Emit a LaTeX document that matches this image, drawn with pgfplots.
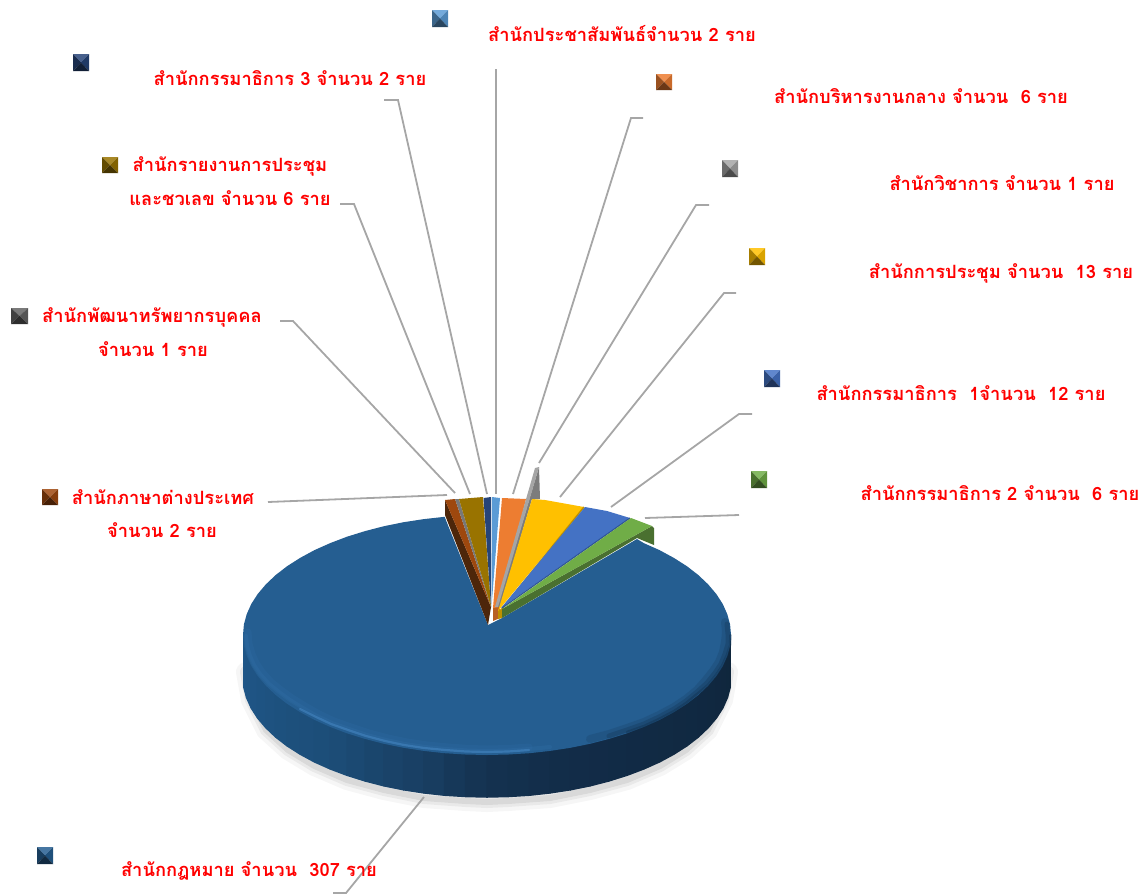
\documentclass[border=0pt]{standalone}
\usepackage{pgfplots}
\pgfplotsset{compat=1.18}
\usepackage{fontspec}
\setmainfont{Loma}[Script=Thai,BoldFont={Loma Bold}]
\definecolor{lab}{RGB}{255,0,0}
\definecolor{lead}{RGB}{166,166,166}
\definecolor{mainb}{RGB}{37,94,145}
\newcommand{\lab}[4]{\node[text=lab,font=\fontsize{#4}{#4}\selectfont\bfseries,inner sep=0pt,anchor=center] at (axis cs:#1,#2) {#3};}
\newcommand{\key}[7]{%
 \addplot[fill=#7!85!white,draw=none] coordinates {(#1,#4) (#3,#4) (#2,#5)} -- cycle;
 \addplot[fill=#7!65!black,draw=none] coordinates {(#1,#4) (#1,#6) (#2,#5)} -- cycle;
 \addplot[fill=#7!85!black,draw=none] coordinates {(#3,#4) (#3,#6) (#2,#5)} -- cycle;
 \addplot[fill=#7!45!black,draw=none] coordinates {(#1,#6) (#3,#6) (#2,#5)} -- cycle;
}
\begin{document}
\begin{tikzpicture}
\path[use as bounding box] (0,0) rectangle (1143pt,895pt);
\begin{axis}[
  at={(0,0)},anchor=south west,
  scale only axis,width=1143pt,height=895pt,
  xmin=0,xmax=1143,ymin=0,ymax=895,y dir=reverse,
  hide axis,clip=false,
  point meta min=0,point meta max=180,
  colormap={wall}{rgb255(0cm)=(32,88,138) rgb255(50cm)=(28,77,120) rgb255(75cm)=(25,63,99) rgb255(90cm)=(20,50,80) rgb255(110cm)=(18,44,72) rgb255(180cm)=(15,38,60)},
]
% soft shadow
\addplot[draw=black,opacity=.035,line width=20pt,line cap=round,no marks] coordinates {(246,672) (251,700) (266,730) (288,750) (314.5,766) (347,780) (384,790) (424,798) (465.7,801) (487,802) (508,801) (550,798) (590,790) (627,780) (660,766) (686,750) (708,730) (723,700) (728,672)};
\addplot[draw=black,opacity=.05,line width=12pt,line cap=round,no marks] coordinates {(246,672) (251,700) (266,730) (288,750) (314.5,766) (347,780) (384,790) (424,798) (465.7,801) (487,802) (508,801) (550,798) (590,790) (627,780) (660,766) (686,750) (708,730) (723,700) (728,672)};
\addplot[draw=black,opacity=.07,line width=6pt,line cap=round,no marks] coordinates {(246,672) (251,700) (266,730) (288,750) (314.5,766) (347,780) (384,790) (424,798) (465.7,801) (487,802) (508,801) (550,798) (590,790) (627,780) (660,766) (686,750) (708,730) (723,700) (728,672)};
% wall of the main slice
\addplot[patch,patch type=rectangle,shader=faceted,faceted color=mapped color,line width=1.5pt,point meta=explicit] coordinates {
(244,636)[2.5] (243.9,645.5)[2.5] (243.9,687.5)[2.5] (244,677)[2.5]
(243.9,645.5)[7.5] (246.7,655.8)[7.5] (246.7,697.8)[7.5] (243.9,687.5)[7.5]
(246.7,655.8)[12.5] (251.3,666.1)[12.5] (251.3,708.1)[12.5] (246.7,697.8)[12.5]
(251.3,666.1)[17.5] (257.7,676)[17.5] (257.7,718)[17.5] (251.3,708.1)[17.5]
(257.7,676)[22.5] (265.9,685.7)[22.5] (265.9,727.7)[22.5] (257.7,718)[22.5]
(265.9,685.7)[27.5] (275.7,695)[27.5] (275.7,737)[27.5] (265.9,727.7)[27.5]
(275.7,695)[32.5] (287.1,703.8)[32.5] (287.1,745.8)[32.5] (275.7,737)[32.5]
(287.1,703.8)[37.5] (300.1,712.1)[37.5] (300.1,754.1)[37.5] (287.1,745.8)[37.5]
(300.1,712.1)[42.5] (314.5,719.9)[42.5] (314.5,761.9)[42.5] (300.1,754.1)[42.5]
(314.5,719.9)[47.5] (330.2,726.9)[47.5] (330.2,768.9)[47.5] (314.5,761.9)[47.5]
(330.2,726.9)[52.5] (347,733.3)[52.5] (347,775.3)[52.5] (330.2,768.9)[52.5]
(347,733.3)[57.5] (365,738.9)[57.5] (365,780.9)[57.5] (347,775.3)[57.5]
(365,738.9)[62.5] (383.9,743.8)[62.5] (383.9,785.8)[62.5] (365,780.9)[62.5]
(383.9,743.8)[67.5] (403.6,747.8)[67.5] (403.6,789.8)[67.5] (383.9,785.8)[67.5]
(403.6,747.8)[72.5] (423.9,750.9)[72.5] (423.9,792.9)[72.5] (403.6,789.8)[72.5]
(423.9,750.9)[77.5] (444.6,753.2)[77.5] (444.6,795.2)[77.5] (423.9,792.9)[77.5]
(444.6,753.2)[82.5] (465.7,754.5)[82.5] (465.7,796.5)[82.5] (444.6,795.2)[82.5]
(465.7,754.5)[87.5] (487,755)[87.5] (487,797)[87.5] (465.7,796.5)[87.5]
(487,755)[92.5] (508.3,754.5)[92.5] (508.3,796.5)[92.5] (487,797)[92.5]
(508.3,754.5)[97.5] (529.4,753.2)[97.5] (529.4,795.2)[97.5] (508.3,796.5)[97.5]
(529.4,753.2)[102.5] (550.1,750.9)[102.5] (550.1,792.9)[102.5] (529.4,795.2)[102.5]
(550.1,750.9)[107.5] (570.4,747.8)[107.5] (570.4,789.8)[107.5] (550.1,792.9)[107.5]
(570.4,747.8)[112.5] (590.1,743.8)[112.5] (590.1,785.8)[112.5] (570.4,789.8)[112.5]
(590.1,743.8)[117.5] (609,738.9)[117.5] (609,780.9)[117.5] (590.1,785.8)[117.5]
(609,738.9)[122.5] (627,733.3)[122.5] (627,775.3)[122.5] (609,780.9)[122.5]
(627,733.3)[127.5] (643.8,726.9)[127.5] (643.8,768.9)[127.5] (627,775.3)[127.5]
(643.8,726.9)[132.5] (659.5,719.9)[132.5] (659.5,761.9)[132.5] (643.8,768.9)[132.5]
(659.5,719.9)[137.5] (673.9,712.1)[137.5] (673.9,754.1)[137.5] (659.5,761.9)[137.5]
(673.9,712.1)[142.5] (686.9,703.8)[142.5] (686.9,745.8)[142.5] (673.9,754.1)[142.5]
(686.9,703.8)[147.5] (698.3,695)[147.5] (698.3,737)[147.5] (686.9,745.8)[147.5]
(698.3,695)[152.5] (708.1,685.7)[152.5] (708.1,727.7)[152.5] (698.3,737)[152.5]
(708.1,685.7)[157.5] (716.3,676)[157.5] (716.3,718)[157.5] (708.1,727.7)[157.5]
(716.3,676)[162.5] (722.7,666.1)[162.5] (722.7,708.1)[162.5] (716.3,718)[162.5]
(722.7,666.1)[167.5] (727.3,655.8)[167.5] (727.3,697.8)[167.5] (722.7,708.1)[167.5]
(727.3,655.8)[172.5] (730.1,645.5)[172.5] (730.1,687.5)[172.5] (727.3,697.8)[172.5]
(730.1,645.5)[177.5] (730,636)[177.5] (730,677)[177.5] (730.1,687.5)[177.5]
};
% top of the main slice
\addplot[fill=mainb,draw=none] coordinates {(488,625) (444.6,516.8) (423.9,519.1) (403.6,522.2) (383.9,526.2) (365,531.1) (347,536.7) (330.2,543.1) (314.5,550.1) (300.1,557.9) (287.1,566.2) (275.7,575) (265.9,584.3) (257.7,594) (251.3,603.9) (246.7,614.2) (243.9,624.5) (243,635) (243.9,645.5) (246.7,655.8) (251.3,666.1) (257.7,676) (265.9,685.7) (275.7,695) (287.1,703.8) (300.1,712.1) (314.5,719.9) (330.2,726.9) (347,733.3) (365,738.9) (383.9,743.8) (403.6,747.8) (423.9,750.9) (444.6,753.2) (465.7,754.5) (487,755) (508.3,754.5) (529.4,753.2) (550.1,750.9) (570.4,747.8) (590.1,743.8) (609,738.9) (627,733.3) (643.8,726.9) (659.5,719.9) (673.9,712.1) (686.9,703.8) (698.3,695) (708.1,685.7) (716.3,676) (722.7,666.1) (727.3,655.8) (730.1,645.5) (731,635) (730.1,624.5) (727.3,614.2) (722.7,603.9) (716.3,594) (708.1,584.3) (698.3,575) (686.9,566.2) (673.9,557.9) (659.5,550.1) (643.8,543.1) (637,539) (502,618) (494,622)} -- cycle;
% bevel of the rim, tapered
\addplot[draw={rgb,255:red,50;green,112;blue,168},opacity=.22,line width=7pt,line cap=round,no marks] coordinates {(248,632) (249,644) (252,654) (256,663) (262,672) (271,682) (281,690) (292,698) (305,706) (319,714) (334,721) (351,727) (369,733) (388,738) (407,742) (427,745) (448,747) (469,748.5) (487,749) (508,748.5) (529,747)};
\addplot[draw={rgb,255:red,50;green,112;blue,168},opacity=.3,line width=4pt,line cap=round,no marks] coordinates {(246,636) (247,646) (250,656) (254,665) (260,674) (269,684) (279,692) (290,700) (303,708) (317,716) (332,723) (349,729) (367,735) (386,740) (405,744) (425,747) (446,749) (467,750.5) (487,751) (508,750.5) (529,749) (550,747)};
\addplot[draw={rgb,255:red,70;green,135;blue,195},opacity=.55,line width=2.2pt,line cap=round,no marks] coordinates {(300,709) (316,717) (331,724) (348,730) (366,736) (385,741) (404,745) (424,748) (445,750) (466,751.5) (487,752) (508,751.5) (529,750)};
\addplot[draw={rgb,255:red,16;green,48;blue,78},opacity=.18,line width=8pt,line cap=round,no marks] coordinates {(590,739) (609,734) (627,728) (644,722) (659,715) (674,707) (686,699) (697,690) (705,681) (713,671) (719,662) (723,652) (725,642) (726,632) (725,622)};
\addplot[draw={rgb,255:red,16;green,48;blue,78},opacity=.28,line width=5pt,line cap=round,no marks] coordinates {(609,736) (627,730) (644,724) (659,717) (674,709) (686,701) (697,692) (707,683) (715,673) (721,664) (725,654) (728,644) (728,634) (727,624)};
\addplot[draw={rgb,255:red,16;green,48;blue,78},opacity=.4,line width=2.5pt,line cap=round,no marks] coordinates {(627,732) (644,726) (659,719) (674,711) (686,703) (697,694) (708,685) (716,675) (722,666) (727,655) (730,645) (730.5,635)};
% small slices
\addplot[fill={rgb,255:red,77;green,38;blue,10},draw=none] coordinates {(445,500) (445,515) (488,625) (491,607)} -- cycle;
\addplot[fill={rgb,255:red,158;green,72;blue,14},draw=none] coordinates {(445,500) (455,499) (491,607)} -- cycle;
\addplot[fill={rgb,255:red,120;green,120;blue,120},draw=none] coordinates {(455,499) (459,499) (491,607)} -- cycle;
\addplot[fill={rgb,255:red,153;green,115;blue,0},draw=none] coordinates {(459,499) (483,497) (491,607)} -- cycle;
\addplot[fill={rgb,255:red,38;green,68;blue,120},draw=none] coordinates {(483.5,498) (491,497) (491,607)} -- cycle;
\addplot[fill={rgb,255:red,91;green,155;blue,213},draw=none] coordinates {(492,497) (500,498) (491.5,607)} -- cycle;
\addplot[fill={rgb,255:red,184;green,96;blue,34},draw=none] coordinates {(493,607) (500,607) (500,618) (493,621)} -- cycle;
\addplot[fill={rgb,255:red,237;green,125;blue,49},draw=none] coordinates {(502,498) (526,499) (499,607) (493,608)} -- cycle;
\addplot[fill={rgb,255:red,124;green,124;blue,124},draw=none] coordinates {(539,467) (540,499) (532,499) (500,607) (497,607)} -- cycle;
\addplot[fill={rgb,255:red,165;green,165;blue,165},draw=none] coordinates {(535,468) (539,467) (498,607) (495,607)} -- cycle;
\addplot[fill={rgb,255:red,191;green,144;blue,0},draw=none] coordinates {(498,610) (502,609) (502,618) (498,619)} -- cycle;
\addplot[fill={rgb,255:red,255;green,192;blue,0},draw=none] coordinates {(532,499) (545,500) (584,507) (498,611)} -- cycle;
\addplot[draw={rgb,255:red,191;green,144;blue,0},line width=1.5pt,no marks] coordinates {(584,507) (501,610)};
\addplot[fill={rgb,255:red,68;green,114;blue,196},draw=none] coordinates {(585,507) (607,511) (630,518) (501,608)} -- cycle;
\addplot[draw={rgb,255:red,47;green,85;blue,151},line width=1.2pt,no marks] coordinates {(630,518) (502,608)};
\addplot[fill={rgb,255:red,74;green,112;blue,48},draw=none] coordinates {(652,526) (654,528) (654,545) (637,538) (502,618) (502,609)} -- cycle;
\addplot[fill={rgb,255:red,112;green,173;blue,71},draw=none] coordinates {(631,518) (652,526) (502,609)} -- cycle;
% leader lines
\addplot[draw=lead,line width=1.8pt,no marks] coordinates {(496,69) (496,494)};
\addplot[draw=lead,line width=1.8pt,no marks] coordinates {(384,100) (398,100) (487,494)};
\addplot[draw=lead,line width=1.8pt,no marks] coordinates {(643,118) (631,118) (513,494)};
\addplot[draw=lead,line width=1.8pt,no marks] coordinates {(709,205) (696,205) (539,463)};
\addplot[draw=lead,line width=1.8pt,no marks] coordinates {(736,293) (724,293) (560,497)};
\addplot[draw=lead,line width=1.8pt,no marks] coordinates {(752,414) (739,414) (611,507)};
\addplot[draw=lead,line width=1.8pt,no marks] coordinates {(739,515) (645,518)};
\addplot[draw=lead,line width=1.8pt,no marks] coordinates {(340,204) (354,204) (470,494)};
\addplot[draw=lead,line width=1.8pt,no marks] coordinates {(280,321) (293,321) (455,493)};
\addplot[draw=lead,line width=1.8pt,no marks] coordinates {(268,502) (447,495)};
\addplot[draw=lead,line width=1.8pt,no marks] coordinates {(333,893) (346,893) (424,797)};
% legend keys
\definecolor{kA}{RGB}{91,155,213}\definecolor{kB}{RGB}{38,68,120}\definecolor{kC}{RGB}{237,125,49}
\definecolor{kD}{RGB}{165,165,165}\definecolor{kE}{RGB}{255,192,0}\definecolor{kF}{RGB}{68,114,196}
\definecolor{kG}{RGB}{112,173,71}\definecolor{kH}{RGB}{153,115,0}\definecolor{kI}{RGB}{99,99,99}
\definecolor{kJ}{RGB}{158,72,14}\definecolor{kK}{RGB}{37,94,145}
\key{432}{440}{448}{10}{18.5}{27}{kA}
\key{73}{81}{89}{54}{62.5}{71}{kB}
\key{656}{664}{672}{74}{82}{90}{kC}
\key{722}{730}{738}{160}{168.5}{177}{kD}
\key{749}{757}{765}{248}{256.5}{265}{kE}
\key{764}{772}{780}{370}{378.5}{387}{kF}
\key{751}{759}{767}{471}{479.5}{488}{kG}
\key{102}{110}{118}{157}{165}{173}{kH}
\key{11}{19.5}{28}{308}{316}{324}{kI}
\key{42}{50}{58}{489}{497}{505}{kJ}
\key{37}{45}{53}{847}{855.5}{864}{kK}
% labels
\lab{622}{34}{สำนักประชาสัมพันธ์จำนวน 2 ราย}{18.3}
\lab{290}{78}{สำนักกรรมาธิการ 3 จำนวน 2 ราย}{18.3}
\lab{921}{96}{สำนักบริหารงานกลาง จำนวน\ \ 6 ราย}{18.3}
\lab{1002}{183}{สำนักวิชาการ จำนวน 1 ราย}{18.3}
\lab{1001}{273}{สำนักการประชุม จำนวน\ \ 13 ราย}{18.3}
\lab{961}{393}{สำนักกรรมาธิการ\ \ 1จำนวน\ \ 12 ราย}{18.3}
\lab{1000}{493}{สำนักกรรมาธิการ 2 จำนวน\ \ 6 ราย}{18.3}
\lab{230}{166}{สำนักรายงานการประชุม}{18.3}
\lab{230}{198}{และชวเลข จำนวน 6 ราย}{18.3}
\lab{152}{317}{สำนักพัฒนาทรัพยากรบุคคล}{18.3}
\lab{153}{349}{จำนวน 1 ราย}{18.3}
\lab{163}{497}{สำนักภาษาต่างประเทศ}{18.3}
\lab{162}{530}{จำนวน 2 ราย}{18.3}
\lab{249}{871}{สำนักกฎหมาย จำนวน\ \ 307 ราย}{18.3}
\end{axis}
\end{tikzpicture}
\end{document}
